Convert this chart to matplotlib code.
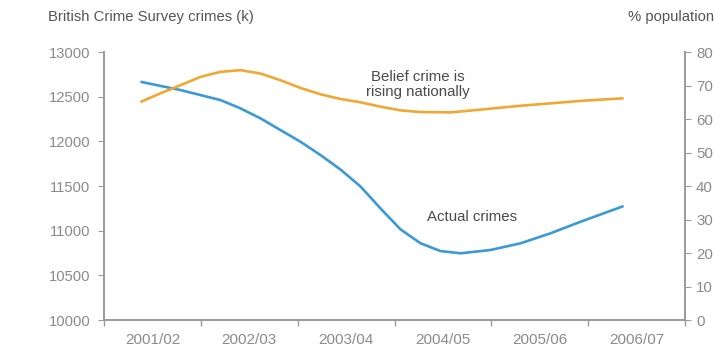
import matplotlib
matplotlib.use("Agg")
import matplotlib.pyplot as plt
import numpy as np

plt.rcParams['font.family'] = ['Liberation Sans', 'DejaVu Sans']

years = ['2001/02', '2002/03', '2003/04', '2004/05', '2005/06', '2006/07']

# positions are in category units (0 = 2001/02)
crime_pos = [-0.124, 0.289, 0.702, 0.909, 1.116, 1.322, 1.529, 1.736, 1.942,
             2.149, 2.355, 2.562, 2.769, 2.975, 3.182, 3.492, 3.802, 4.112, 4.421,
             4.659, 4.866]
crimes = [12668, 12575, 12463, 12370, 12258, 12127, 11996, 11847, 11685,
          11495, 11250, 11015, 10859, 10772, 10747, 10784, 10859, 10971, 11100,
          11194, 11276]

belief_pos = [-0.124, 0.083, 0.289, 0.496, 0.702, 0.909, 1.116, 1.322, 1.529, 1.736,
              1.942, 2.149, 2.355, 2.562, 2.769, 3.079, 3.419, 3.771, 4.112, 4.452,
              4.866]
belief = [65.1, 67.7, 70.1, 72.6, 74.1, 74.6, 73.6, 71.6, 69.3, 67.4,
          66.0, 65.0, 63.7, 62.6, 62.1, 62.0, 62.9, 63.9, 64.7, 65.5,
          66.2]

blue = '#3a9ad6'
orange = '#f0a832'
grey = '#8a8a8a'
spine_col = '#9a9a9a'

fig = plt.figure(figsize=(7.15, 3.52), dpi=100)
ax = fig.add_axes([0.1455, 0.0909, 0.8125, 0.7611])
ax2 = ax.twinx()

ax.plot(crime_pos, crimes, color=blue, lw=1.9, solid_capstyle='butt', solid_joinstyle='round')
ax2.plot(belief_pos, belief, color=orange, lw=1.9, solid_capstyle='butt', solid_joinstyle='round')

ax.set_xlim(-0.5, 5.5)
ax.set_ylim(10000, 13000)
ax2.set_ylim(0, 80)
ax.set_yticks(np.arange(10000, 13001, 500))
ax2.set_yticks(np.arange(0, 81, 10))
ax.set_xticks(range(len(years)))
ax.set_xticklabels(years)
ax.set_xticks(np.arange(-0.5, 5.6, 1), minor=True)
ax.tick_params(axis='x', which='major', length=0, pad=9, labelsize=11, labelcolor=grey)
ax.tick_params(axis='x', which='minor', length=4, color=spine_col, width=1)
ax.tick_params(axis='y', length=4, color=spine_col, labelsize=10.6, labelcolor=grey, pad=6)
ax2.tick_params(axis='y', length=4, color=spine_col, labelsize=10.8, labelcolor=grey, pad=4)

for a in (ax, ax2):
    a.spines['top'].set_visible(False)
    for s in ('left', 'right', 'bottom'):
        a.spines[s].set_color(spine_col)
        a.spines[s].set_linewidth(1.2)

fig.text(0.067, 0.952, 'British Crime Survey crimes (k)', fontsize=10.7, color='#555555',
         ha='left', va='center')
fig.text(0.878, 0.952, '% population', fontsize=10.7, color='#555555',
         ha='left', va='center')

ax.text(2.74, 12640, 'Belief crime is\nrising nationally', fontsize=10.8, color='#4a4a4a',
        ha='center', va='center', linespacing=1.05)
ax.text(3.30, 11150, 'Actual crimes', fontsize=10.8, color='#4a4a4a',
        ha='center', va='center')

fig.savefig('out.png', dpi=100)
